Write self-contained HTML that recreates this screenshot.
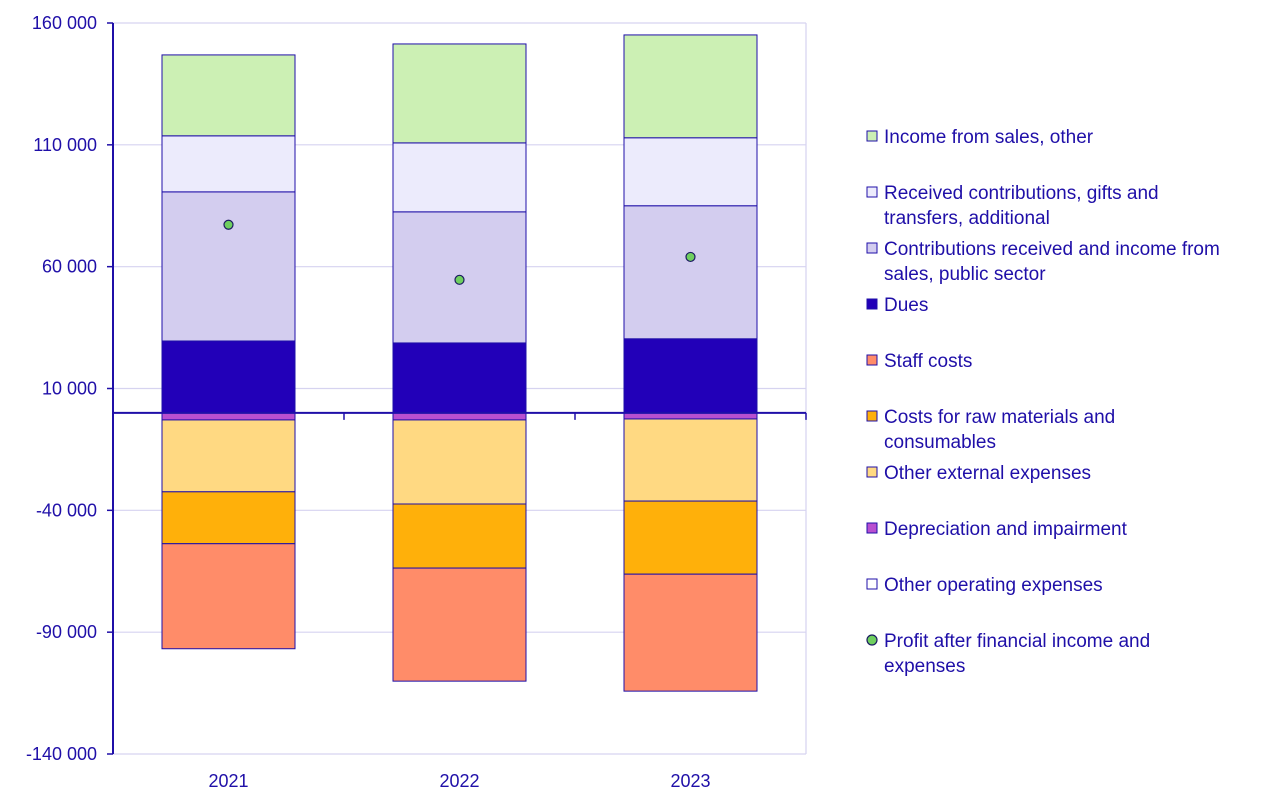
<!DOCTYPE html>
<html><head><meta charset="utf-8"><style>
body{margin:0;background:#fff;}
svg{display:block;font-family:"Liberation Sans",sans-serif;}
</style></head><body>
<svg id="chart" width="1272" height="807"></svg>
<script>
const years=["2021","2022","2023"];
const salesOther=[33200,40600,42200];
const additional=[23000,28300,27900];
const publicSector=[61200,53800,54600];
const dues=[29500,28700,30400];
const depreciation=[-2900,-2900,-2500];
const otherExternal=[-29500,-34500,-33700];
const rawMaterials=[-21300,-26300,-30000];
const staff=[-43100,-46400,-48000];
const otherOperating=[0,0,0];
const profit=[77200,54600,64000];
const yTicks=[160000,110000,60000,10000,-40000,-90000,-140000];
const yTickLabels=["160 000","110 000","60 000","10 000","-40 000","-90 000","-140 000"];

const NS="http://www.w3.org/2000/svg";
const svg=document.getElementById("chart");
const ink="#1f0fa8";
const X0=113,X1=806,Ytop=23,Ybot=754,ymax=160000,ymin=-140000;
function y(v){return Ytop+(ymax-v)/(ymax-ymin)*(Ybot-Ytop);}
const band=(X1-X0)/years.length, barW=133;
function xc(i){return X0+band*(i+0.5);}
function el(t,a,p){const e=document.createElementNS(NS,t);for(const k in a)e.setAttribute(k,a[k]);(p||svg).appendChild(e);return e;}

// grid
yTicks.forEach((t,i)=>{
  const g=el("line",{x1:X0,x2:X1,y1:y(t),y2:y(t),stroke:"#d6d3f0","stroke-width":1.2});
  
  
  const tk=el("line",{x1:X0-6,x2:X0,y1:y(t),y2:y(t),stroke:ink,"stroke-width":1.5});
  
  
  const tx=el("text",{x:97,y:y(t)+6,"text-anchor":"end","font-size":18,fill:ink});
  tx.textContent=yTickLabels[i];
  
  
});
const rb=el("line",{x1:X1,x2:X1,y1:Ytop,y2:Ybot,stroke:"#d6d3f0","stroke-width":1.2});



const pos=[[salesOther,"#ccf0b4","sales-other"],[additional,"#ecebfc","additional-contributions"],[publicSector,"#d3cdef","public-sector"],[dues,"#2200b8","dues"]];
const neg=[[depreciation,"#b84fd0","depreciation"],[otherExternal,"#ffd982","other-external"],[rawMaterials,"#ffb00a","raw-materials"],[staff,"#ff8c69","staff-costs"],[otherOperating,"#ffffff","other-operating"]];
years.forEach((yr,i)=>{
  let base=0;
  [...pos].reverse().forEach(s=>{
    const v=s[0][i];
    const r=el("rect",{x:xc(i)-barW/2,y:y(base+v),width:barW,height:y(base)-y(base+v),fill:s[1],stroke:ink,"stroke-width":1});
    
    
    base+=v;
  });
  base=0;
  neg.forEach(s=>{
    const v=s[0][i];
    if(v===0)return;
    const r=el("rect",{x:xc(i)-barW/2,y:y(base),width:barW,height:y(base+v)-y(base),fill:s[1],stroke:ink,"stroke-width":1});
    
    
    base+=v;
  });
  const lb=el("text",{x:xc(i),y:787,"text-anchor":"middle","font-size":18,fill:ink});
  lb.textContent=yr;
  
  
});
// zero axis
const z=el("line",{x1:X0,x2:X1,y1:y(0),y2:y(0),stroke:ink,"stroke-width":2});


for(let i=1;i<=years.length;i++){
  const t=el("line",{x1:X0+band*i,x2:X0+band*i,y1:y(0),y2:y(0)+7,stroke:ink,"stroke-width":1.5});
  
  
}
const ya=el("line",{x1:X0,x2:X0,y1:Ytop,y2:Ybot,stroke:ink,"stroke-width":2});


years.forEach((yr,i)=>{
  const c=el("circle",{cx:xc(i),cy:y(profit[i]),r:4.5,fill:"#6fcf5f",stroke:"#1a1a60","stroke-width":1.2});
  
  
});

// legend
const leg=[["#ccf0b4","sq",["Income from sales, other"],136],
["#ecebfc","sq",["Received contributions, gifts and","transfers, additional"],192],
["#d3cdef","sq",["Contributions received and income from","sales, public sector"],248],
["#2200b8","sq",["Dues"],304],
["#ff8c69","sq",["Staff costs"],360],
["#ffb00a","sq",["Costs for raw materials and","consumables"],416],
["#ffd982","sq",["Other external expenses"],472],
["#b84fd0","sq",["Depreciation and impairment"],528],
["#ffffff","sq",["Other operating expenses"],584],
["#6fcf5f","ci",["Profit after financial income and","expenses"],640]];
leg.forEach(l=>{
  const g=el("g",{});
  
  
  if(l[1]==="sq") el("rect",{x:867,y:l[3]-5,width:10,height:10,fill:l[0],stroke:ink,"stroke-width":1},g);
  else el("circle",{cx:872,cy:l[3],r:5,fill:l[0],stroke:"#1a1a60","stroke-width":1.2},g);
  l[2].forEach((s,j)=>{const t=el("text",{x:884,y:l[3]+7+j*25,"font-size":19,fill:ink},g);t.textContent=s;});
});
</script>
</body></html>
